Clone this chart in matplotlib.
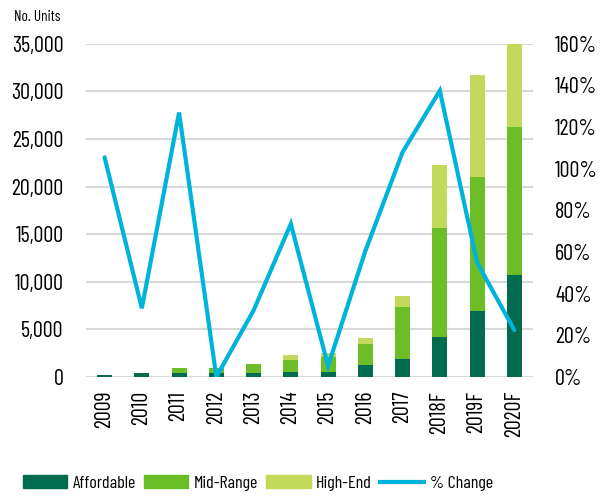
import matplotlib.pyplot as plt
import numpy as np
from matplotlib.lines import Line2D
from matplotlib.patches import Patch

years = ['2009', '2010', '2011', '2012', '2013', '2014', '2015', '2016',
         '2017', '2018F', '2019F', '2020F']
affordable = [250, 400, 450, 450, 450, 550, 550, 1300, 1900, 4250, 6950, 10700]
mid_range = [0, 0, 500, 500, 900, 1250, 1500, 2150, 5500, 11450, 14050, 15600]
high_end = [0, 0, 0, 0, 0, 550, 450, 600, 1150, 6600, 10700, 8700]
pct_change = [105.5, 33, 127, 0, 32, 73.5, 5.3, 60.5, 108, 137.5, 55, 22.5]

c_aff = '#006B4D'
c_mid = '#6BBE28'
c_high = '#C2D959'
c_line = '#00B3DB'

plt.rcParams['font.family'] = ['Barlow Condensed', 'DejaVu Sans']

fig = plt.figure(figsize=(6.14, 4.98), dpi=100)
ax = fig.add_axes([0.14, 0.243, 0.728, 0.669])
x = np.arange(len(years))
w = 0.4

aff = np.array(affordable)
mid = np.array(mid_range)
high = np.array(high_end)
ax.bar(x, aff, w, color=c_aff, zorder=2)
ax.bar(x, mid, w, bottom=aff, color=c_mid, zorder=2)
ax.bar(x, high, w, bottom=aff + mid, color=c_high, zorder=2)

ax.set_ylim(0, 35000)
ax.set_xlim(-0.5, 11.5)
ax.set_yticks(range(0, 35001, 5000))
ax.set_yticklabels([f'{v:,}' for v in range(0, 35001, 5000)], fontsize=16)
ax.set_xticks(x)
ax.set_xticklabels(years, rotation=90, fontsize=16)
ax.yaxis.grid(True, color='#D9D9D9', linewidth=1.5, zorder=0)
ax.set_axisbelow(True)
ax.tick_params(axis='x', length=0, pad=10)
ax.tick_params(axis='y', length=0, pad=16)
for s in ax.spines.values():
    s.set_visible(False)

ax2 = ax.twinx()
ax2.plot(x, pct_change, color=c_line, linewidth=3.0, solid_capstyle='round',
         solid_joinstyle='miter', zorder=3)
ax2.set_ylim(0, 160)
ax2.set_yticks(range(0, 161, 20))
ax2.set_yticklabels([f'{v}%' for v in range(0, 161, 20)], fontsize=16)
ax2.tick_params(length=0, pad=16)
for s in ax2.spines.values():
    s.set_visible(False)

fig.text(0.023, 0.965, 'No. Units', fontsize=11, va='center', ha='left')

handles = [Patch(color=c_aff), Patch(color=c_mid), Patch(color=c_high),
           Line2D([], [], color=c_line, linewidth=3.0)]
labels = ['Affordable', 'Mid-Range', 'High-End', '% Change']
fig.legend(handles, labels, loc='center', bbox_to_anchor=(0.42, 0.03), ncol=4,
           frameon=False, fontsize=13, handlelength=2.45, handleheight=0.75,
           columnspacing=0.45, handletextpad=0.3, borderpad=0.1)

fig.savefig('out.png', dpi=100)
